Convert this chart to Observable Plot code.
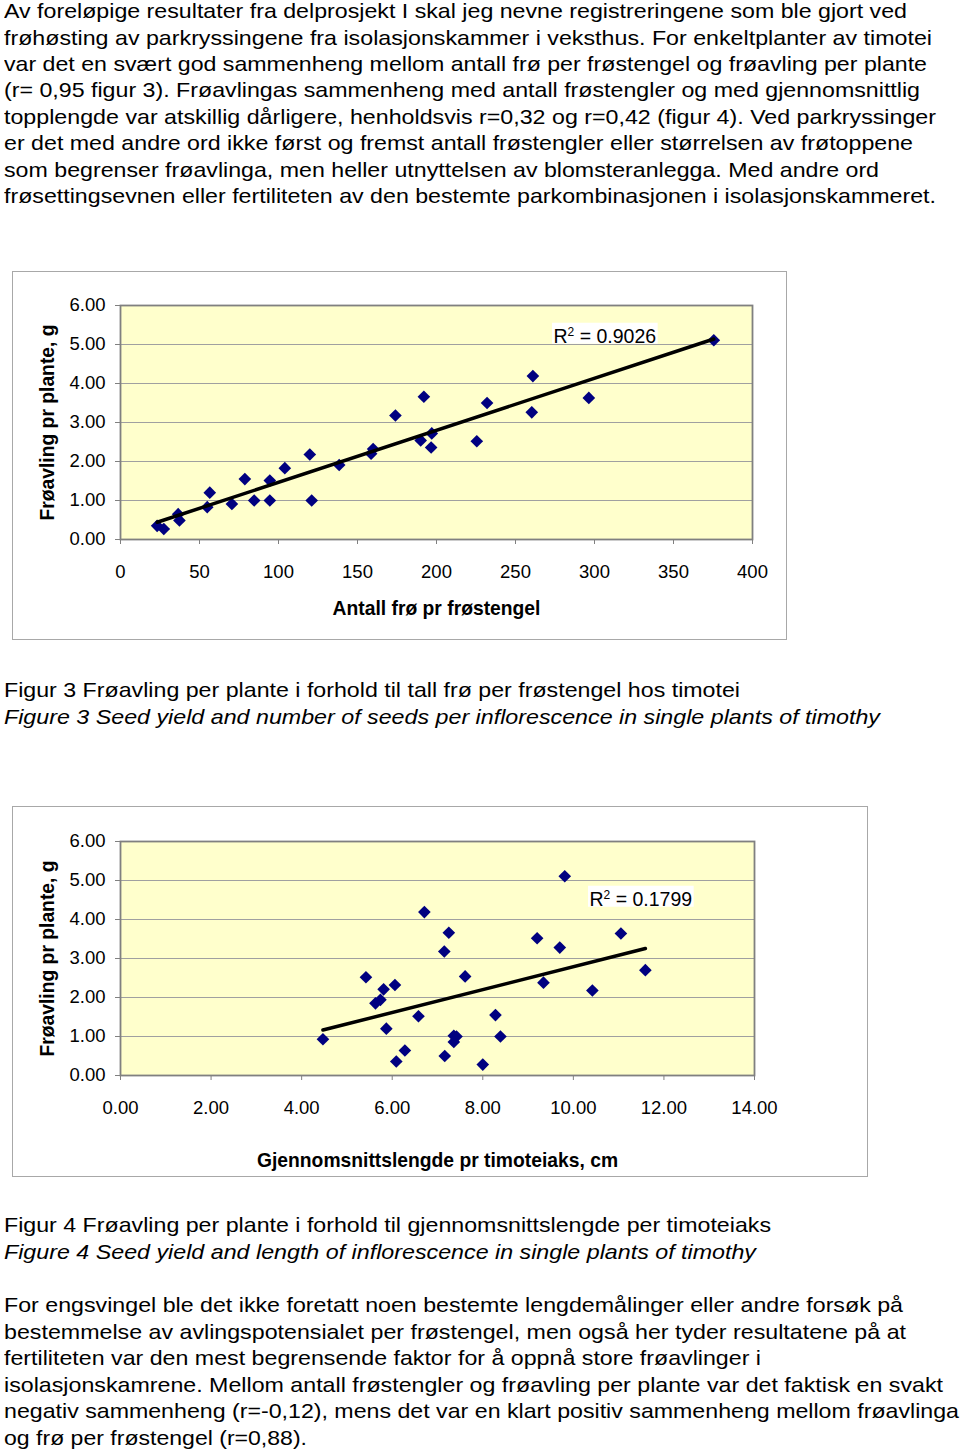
<!DOCTYPE html>
<html>
<head>
<meta charset="utf-8">
<script src="https://cdn.jsdelivr.net/npm/d3@7"></script>
<script src="https://cdn.jsdelivr.net/npm/@observablehq/plot@0.6"></script>
<style>
  html, body { margin: 0; padding: 0; background: #fff; }
  #page { position: relative; width: 960px; height: 1454px; overflow: hidden;
          font-family: "Liberation Sans", Arial, sans-serif; color: #000; }
  .line { position: absolute; left: 4px; white-space: nowrap; font-size: 21px;
          line-height: 21px; transform-origin: 0 0; }
  .box { position: absolute; border: 1.5px solid #a8a8a8; box-sizing: border-box; background: #fff; }
  .chart { position: absolute; }
</style>
</head>
<body>
<div id="page"></div>
<script>
// ---------------- DATA ----------------
const introLines = [
  "Av foreløpige resultater fra delprosjekt I skal jeg nevne registreringene som ble gjort ved",
  "frøhøsting av parkryssingene fra isolasjonskammer i veksthus. For enkeltplanter av timotei",
  "var det en svært god sammenheng mellom antall frø per frøstengel og frøavling per plante",
  "(r= 0,95 figur 3). Frøavlingas sammenheng med antall frøstengler og med gjennomsnittlig",
  "topplengde var atskillig dårligere, henholdsvis r=0,32 og r=0,42 (figur 4). Ved parkryssinger",
  "er det med andre ord ikke først og fremst antall frøstengler eller størrelsen av frøtoppene",
  "som begrenser frøavlinga, men heller utnyttelsen av blomsteranlegga. Med andre ord",
  "frøsettingsevnen eller fertiliteten av den bestemte parkombinasjonen i isolasjonskammeret."
];
const fig3Caption = "Figur 3 Frøavling per plante i forhold til tall frø per frøstengel hos timotei";
const fig3CaptionEn = "Figure 3 Seed yield and number of seeds per inflorescence in single plants of timothy";
const fig4Caption = "Figur 4 Frøavling per plante i forhold til gjennomsnittslengde per timoteiaks";
const fig4CaptionEn = "Figure 4 Seed yield and length of inflorescence in single plants of timothy";
const outroLines = [
  "For engsvingel ble det ikke foretatt noen bestemte lengdemålinger eller andre forsøk på",
  "bestemmelse av avlingspotensialet per frøstengel, men også her tyder resultatene på at",
  "fertiliteten var den mest begrensende faktor for å oppnå store frøavlinger i",
  "isolasjonskamrene. Mellom antall frøstengler og frøavling per plante var det faktisk en svakt",
  "negativ sammenheng (r=-0,12), mens det var en klart positiv sammenheng mellom frøavlinga",
  "og frø per frøstengel (r=0,88)."
];

// Figure 3: seeds per seed stem (x) vs seed yield per plant, g (y)
const fig3Seeds = [23.2, 27.4, 36.5, 37.3, 54.9, 56.5, 70.5, 78.7, 84.6, 94.5, 94.5, 104.0, 119.8, 121.0,
                   138.4, 158.6, 159.9, 174.0, 192.0, 190.0, 197.0, 196.6, 225.5, 232.0, 261.0, 260.3, 296.4, 375.5];
const fig3Yield = [0.35, 0.27, 0.65, 0.49, 0.83, 1.20, 0.91, 1.55, 1.00, 1.51, 1.00, 1.83, 2.18, 1.00,
                   1.91, 2.20, 2.32, 3.18, 3.66, 2.54, 2.72, 2.36, 2.52, 3.50, 4.19, 3.26, 3.63, 5.11];

// Figure 4: mean inflorescence length, cm (x) vs seed yield per plant, g (y)
const fig4Length = [4.47, 5.42, 5.81, 6.06, 5.63, 5.74, 5.87, 6.28, 6.09, 6.58, 6.71, 7.25, 7.15, 7.61,
                    7.36, 7.42, 7.36, 7.16, 8.00, 8.28, 8.39, 9.20, 9.34, 9.70, 9.81, 10.42, 11.05, 11.59];
const fig4Yield = [0.93, 2.52, 2.21, 2.32, 1.85, 1.94, 1.20, 0.64, 0.36, 1.52, 4.19, 3.66, 3.18, 2.54,
                   1.02, 1.00, 0.86, 0.50, 0.28, 1.55, 1.00, 3.52, 2.38, 3.28, 5.11, 2.18, 3.64, 2.70];

const yTicks = [0, 1, 2, 3, 4, 5, 6];
const fig3XTicks = [0, 50, 100, 150, 200, 250, 300, 350, 400];
const fig4XTicks = [0, 2, 4, 6, 8, 10, 12, 14];
const yTitle = "Frøavling pr plante, g";
const fig3XTitle = "Antall frø pr frøstengel";
const fig4XTitle = "Gjennomsnittslengde pr timoteiaks, cm";
const fig3R2 = "R² = 0.9026";
const fig4R2 = "R² = 0.1799";

// ---------------- LAYOUT ----------------
const page = document.getElementById("page");
const FONT = "'Liberation Sans', Arial, sans-serif";
const SVGNS = "http://www.w3.org/2000/svg";

function placeLine(text, baseline, targetWidth, italic) {
  const d = document.createElement("div");
  d.className = "line";
  d.textContent = text;
  d.style.top = (baseline - 17.8) + "px";
  if (italic) d.style.fontStyle = "italic";
  page.appendChild(d);
  const w = d.getBoundingClientRect().width;
  if (targetWidth && w > 0) d.style.transform = `scaleX(${targetWidth / w})`;
}

const introWidths = [903, 928, 923, 916, 932, 909, 875, 932];
introLines.forEach((t, i) => placeLine(t, 18 + 26.4 * i, introWidths[i], false));
placeLine(fig3Caption, 697, 736, false);
placeLine(fig3CaptionEn, 724, 876, true);
placeLine(fig4Caption, 1232, 767, false);
placeLine(fig4CaptionEn, 1259, 752, true);
const outroWidths = [899, 902, 757, 939, 955, 303];
outroLines.forEach((t, i) => placeLine(t, 1312 + 26.5 * i, outroWidths[i], false));

function makeChart(cfg) {
  const box = document.createElement("div");
  box.className = "box";
  Object.assign(box.style, {left: cfg.left + "px", top: cfg.top + "px",
    width: cfg.width + "px", height: cfg.height + "px"});
  page.appendChild(box);

  const data = cfg.xs.map((x, i) => ({x, y: cfg.ys[i]}));
  const chart = Plot.plot({
    width: cfg.width,
    height: cfg.height,
    marginLeft: cfg.ml, marginRight: cfg.mr, marginTop: cfg.mt, marginBottom: cfg.mb,
    style: {background: "transparent", fontFamily: FONT, color: "#000", overflow: "visible"},
    x: {domain: cfg.xDomain, nice: false},
    y: {domain: [0, 6], nice: false},
    marks: [
      Plot.frame({fill: "#FFFFCC", stroke: "none"}),
      Plot.gridY(yTicks.slice(1, -1), {stroke: "#a0a0a0", strokeOpacity: 1, strokeWidth: 1}),
      Plot.dot(data, {x: "x", y: "y", symbol: "diamond2", r: 5.7, fill: "#000080", stroke: "none"}),
      Plot.linearRegressionY(data, {x: "x", y: "y", stroke: "#000", strokeWidth: 3.5, ci: 0}),
      Plot.frame({stroke: "#808080", strokeWidth: 1.8}),
      Plot.axisY({ticks: yTicks, tickFormat: d => d.toFixed(2), tickSize: 5, tickPadding: 10,
                  fontSize: 18.5, stroke: "#808080", label: null}),
      Plot.axisX({ticks: cfg.xTicks, tickFormat: cfg.xFormat, tickSize: 5, tickPadding: 20.5,
                  fontSize: 18.5, stroke: "#808080", label: null}),
      Plot.text([cfg.xTitle], {text: d => d, frameAnchor: "bottom", dy: cfg.xTitleDy,
                  fontWeight: "bold", fontSize: 19.3, lineAnchor: "middle", textAnchor: "middle"}),
      Plot.text([yTitle], {text: d => d, frameAnchor: "left", dx: -73, rotate: -90,
                  fontWeight: "bold", fontSize: 19.3, lineAnchor: "middle", textAnchor: "middle"}),
      Plot.text([cfg.r2], {text: d => d, frameAnchor: "top-left", dx: cfg.r2dx, dy: cfg.r2dy,
                  textAnchor: "start", lineAnchor: "middle", fontSize: 19.5})
    ]
  });
  chart.classList.add("chart");
  chart.style.left = cfg.left + "px";
  chart.style.top = cfg.top + "px";
  page.appendChild(chart);

  // R² annotation: superscript 2 and white label box, as in the spreadsheet chart
  chart.querySelectorAll("text").forEach(t => {
    if (t.textContent === cfg.r2) {
      const [pre, post] = cfg.r2.split("²");
      t.textContent = "";
      const s1 = document.createElementNS(SVGNS, "tspan"); s1.textContent = pre;
      const s2 = document.createElementNS(SVGNS, "tspan"); s2.textContent = "2";
      s2.setAttribute("dy", "-7"); s2.setAttribute("font-size", "12");
      const s3 = document.createElementNS(SVGNS, "tspan"); s3.textContent = post;
      s3.setAttribute("dy", "7");
      t.append(s1, s2, s3);
      const bb = t.getBBox();
      const rect = document.createElementNS(SVGNS, "rect");
      rect.setAttribute("x", bb.x - 1.5);
      rect.setAttribute("y", bb.y - 2);
      rect.setAttribute("width", bb.width + 3);
      rect.setAttribute("height", bb.height - 1);
      rect.setAttribute("fill", "#fff");
      const tr = t.getAttribute("transform");
      if (tr) rect.setAttribute("transform", tr);
      t.parentNode.insertBefore(rect, t);
    }
  });
}

makeChart({
  left: 12, top: 271, width: 775, height: 369, ml: 108, mr: 35, mt: 34, mb: 101,
  xs: fig3Seeds, ys: fig3Yield, xDomain: [0, 400], xTicks: fig3XTicks, xFormat: d => String(d),
  xTitle: fig3XTitle, xTitleDy: 69, r2: fig3R2, r2dx: 433, r2dy: 31
});
makeChart({
  left: 12, top: 806, width: 856, height: 371, ml: 108, mr: 114, mt: 35, mb: 102,
  xs: fig4Length, ys: fig4Yield, xDomain: [0, 14], xTicks: fig4XTicks, xFormat: d => d.toFixed(2),
  xTitle: fig4XTitle, xTitleDy: 85, r2: fig4R2, r2dx: 469, r2dy: 58
});
</script>
</body>
</html>
